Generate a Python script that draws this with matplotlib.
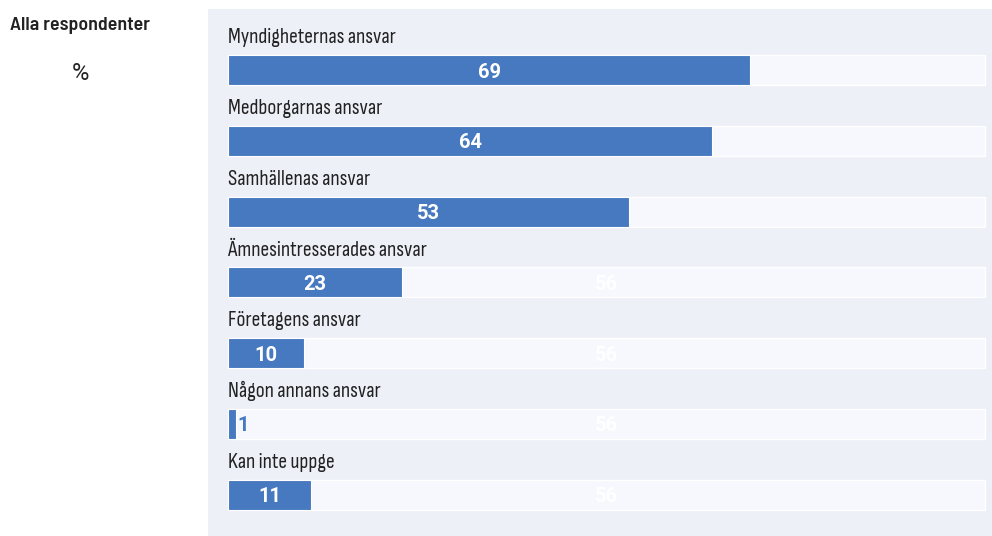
import matplotlib
matplotlib.use("Agg")
import matplotlib.pyplot as plt

# data
categories = ["Myndigheternas ansvar", "Medborgarnas ansvar", "Samhällenas ansvar",
              "Ämnesintresserades ansvar", "Företagens ansvar", "Någon annans ansvar",
              "Kan inte uppge"]
values = [69, 64, 53, 23, 10, 1, 11]
ghost_label = "56"
side_title = "Alla respondenter"
unit = "%"

BLUE = "#4679bf"
PANEL = "#eef0f8"
TRACK = "#f7f8fd"
NARROW = ["Sofia Sans Condensed", "DejaVu Sans"]
NARROW_BOLD = ["Barlow Semi Condensed", "DejaVu Sans"]
NUM = ["Roboto", "DejaVu Sans"]

W, H = 992, 536
fig = plt.figure(figsize=(W / 100, H / 100), dpi=100)
fig.patch.set_facecolor("white")

# panel axes: 208..992 px wide, 9..536 px tall
ax = fig.add_axes([208 / W, 0, (W - 208) / W, (H - 9) / H])
ax.set_facecolor(PANEL)
for s in ax.spines.values():
    s.set_visible(False)
ax.set_xticks([])
ax.set_yticks([])

# map 0..100 onto track from 228 to 985 px
px = 757 / 100
ax.set_xlim(-20 / px, 100 + 7 / px)
step = 70.75
ax.set_ylim((536 - 70) / step, (9 - 70) / step)

n = len(categories)
rows = list(range(n))
bh = 30 / step

ax.barh(rows, [100] * n, height=bh, color=TRACK, edgecolor="white", linewidth=1, zorder=1)
for i in rows:
    ax.text(50, i + 0.03, ghost_label, ha="center", va="center", color="white",
            fontsize=14.5, fontweight="bold", family=NUM, zorder=2)
ax.barh(rows, values, height=bh, color=BLUE, edgecolor="white", linewidth=0.8, zorder=3)

for i, (c, v) in enumerate(zip(categories, values)):
    ax.text(0, i - 0.375, c, ha="left", va="baseline", color="#222222",
            fontsize=15.5, family=NARROW, zorder=4)
    if v >= 5:
        ax.text(v / 2, i + 0.03, str(v), ha="center", va="center", color="white",
                fontsize=14.5, fontweight="bold", family=NUM, zorder=4)
    else:
        ax.text(v + 0.3, i + 0.03, str(v), ha="left", va="center", color=BLUE,
                fontsize=14.5, fontweight="semibold", family=NUM, zorder=4)

fig.text(10 / W, 1 - 25 / H, side_title, ha="left", va="center", color="#222222",
         fontsize=14.3, fontweight="semibold", family=NARROW_BOLD)
fig.text(80 / W, 1 - 73 / H, unit, ha="center", va="center", color="#222222",
         fontsize=17, fontweight="normal", family=NUM)

fig.savefig("out.png", dpi=100)
